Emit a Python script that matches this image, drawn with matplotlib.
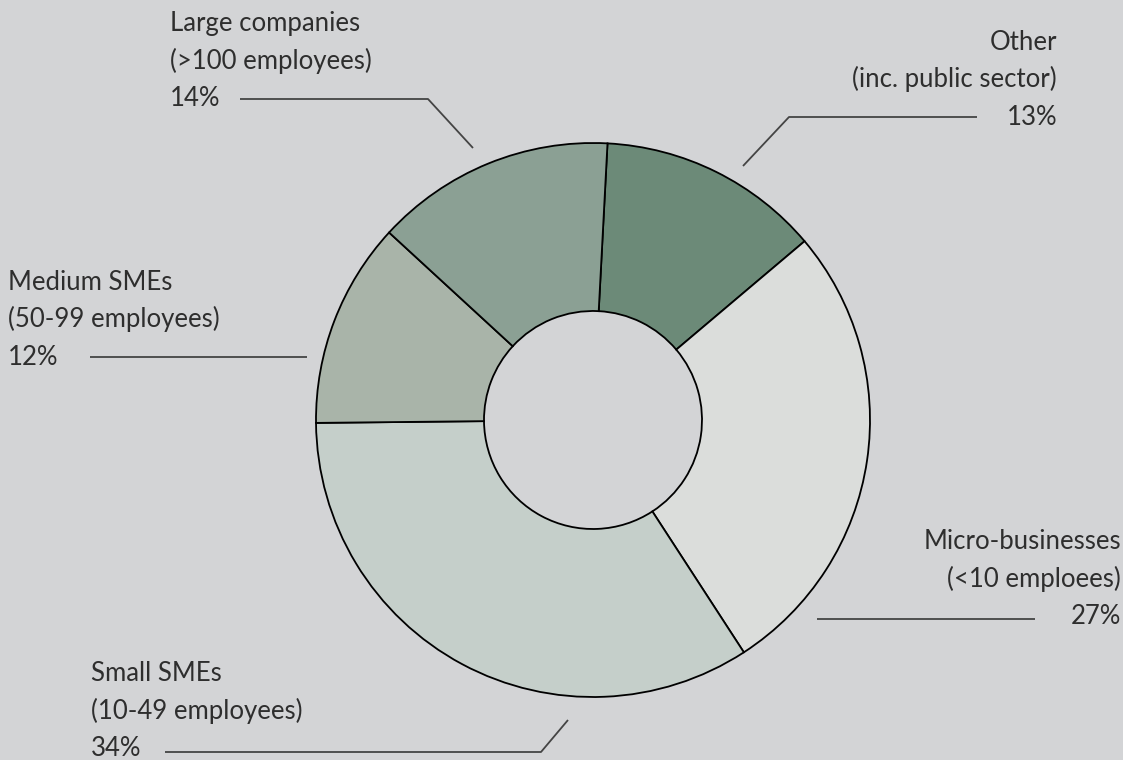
import matplotlib
matplotlib.use('Agg')
import matplotlib.pyplot as plt

# share of respondents by organisation size, clockwise from the top
names = ['Other', 'Micro-businesses', 'Small SMEs', 'Medium SMEs', 'Large companies']
subtitles = ['(inc. public sector)', '(<10 emploees)', '(10-49 employees)',
             '(50-99 employees)', '(>100 employees)']
shares = [13, 27, 34, 12, 14]
colors = ['#6c8a78', '#dbdddb', '#c5cfca', '#a9b4a9', '#8ba094']

W, H = 1123, 760
bg = '#d3d4d6'
ink = '#2e2e2e'

plt.rcParams['font.family'] = ['Lato', 'DejaVu Sans']

fig = plt.figure(figsize=(W / 100, H / 100), dpi=100, facecolor=bg)
ax = fig.add_axes([0, 0, 1, 1])
ax.set_facecolor(bg)

# work in pixel units, y measured from the top
def py(y):
    return H - y

ax.pie(shares, colors=colors, startangle=87, counterclock=False,
       radius=277, center=(593, py(420)),
       wedgeprops=dict(width=168, edgecolor='black', linewidth=1.3))

ax.set_xlim(0, W)
ax.set_ylim(0, H)
ax.set_aspect('equal')
ax.axis('off')

# label block: x, first baseline, alignment; leader polyline
layout = {
    'Other': (1057, 50, 'right', [(977, 117), (789, 117), (743, 166)]),
    'Micro-businesses': (1121, 549, 'right', [(1035, 619), (817, 619)]),
    'Small SMEs': (91, 681, 'left', [(165, 752), (541, 752), (568, 720)]),
    'Medium SMEs': (8, 290, 'left', [(90, 357), (307, 357)]),
    'Large companies': (170, 31, 'left', [(240, 99), (428, 99), (473, 148)]),
}

for name, sub, v in zip(names, subtitles, shares):
    x, y0, ha, pts = layout[name]
    for k, line in enumerate([name, sub, f'{v}%']):
        ax.text(x, py(y0 + 37.5 * k), line, ha=ha, va='baseline',
                fontsize=18.5, color=ink, fontweight='normal')
    ax.plot([p[0] for p in pts], [py(p[1]) for p in pts],
            color='#444444', lw=1.3, solid_capstyle='butt')

fig.savefig('out.png', dpi=100, facecolor=bg)
